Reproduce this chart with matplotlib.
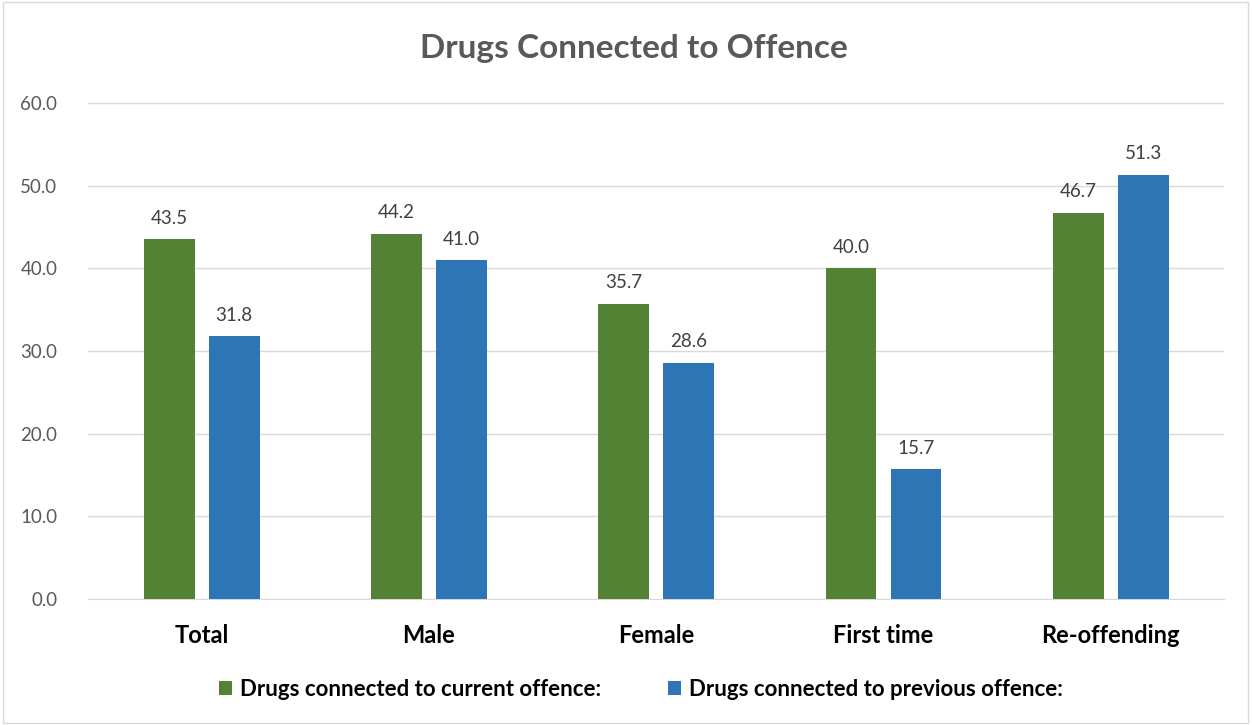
import matplotlib.pyplot as plt
import numpy as np
from matplotlib.patches import Rectangle

categories = ["Total", "Male", "Female", "First time", "Re-offending"]
current = [43.5, 44.2, 35.7, 40.0, 46.7]
previous = [31.8, 41.0, 28.6, 15.7, 51.3]
series_names = ["Drugs connected to current offence:", "Drugs connected to previous offence:"]

plt.rcParams['font.family'] = ['Lato', 'DejaVu Sans']

green = '#548235'
blue = '#2E75B6'

fig = plt.figure(figsize=(12.52, 7.25), dpi=100)
ax = fig.add_axes([0.0703, 0.1738, 0.9077, 0.6842])

x = np.arange(len(categories))
w = 0.224
off = 0.143
b1 = ax.bar(x - off, current, w, color=green, label=series_names[0], zorder=3)
b2 = ax.bar(x + off, previous, w, color=blue, label=series_names[1], zorder=3)

for bars in (b1, b2):
    for r in bars:
        ax.annotate(f"{r.get_height():.1f}", (r.get_x() + r.get_width() / 2, r.get_height()),
                    xytext=(0, 9), textcoords='offset points', ha='center', va='bottom',
                    fontsize=13.5, color='#404040')

ax.set_xlim(-0.5, len(categories) - 0.5)
ax.set_ylim(0, 60)
ax.set_yticks(np.arange(0, 61, 10))
ax.set_yticklabels([f"{v:.1f}" for v in np.arange(0, 61, 10)], fontsize=13.5, color='#595959')
ax.set_xticks(x)
ax.set_xticklabels(categories, fontsize=17, fontweight='bold', color='black')
ax.tick_params(axis='both', length=0)
ax.tick_params(axis='y', pad=22)
ax.tick_params(axis='x', pad=18)
ax.grid(axis='y', color='#D9D9D9', linewidth=1, zorder=0)
for s in ['top', 'right', 'left']:
    ax.spines[s].set_visible(False)
ax.spines['bottom'].set_color('#D9D9D9')

fig.text(0.506, 0.933, "Drugs Connected to Offence", ha='center', va='center',
         fontsize=24, fontweight='bold', color='#595959')

leg = fig.legend(handles=[b1, b2], loc='center', bbox_to_anchor=(0.512, 0.049), ncol=2,
                 frameon=False, fontsize=16, handlelength=0.6, handleheight=0.6,
                 columnspacing=3.0, handletextpad=0.35)
for t in leg.get_texts():
    t.set_fontweight('bold')

fig.patches.append(Rectangle((0.002, 0.003), 0.995, 0.994, transform=fig.transFigure,
                             fill=False, edgecolor='#D9D9D9', linewidth=1))

fig.savefig('out.png', dpi=100)
